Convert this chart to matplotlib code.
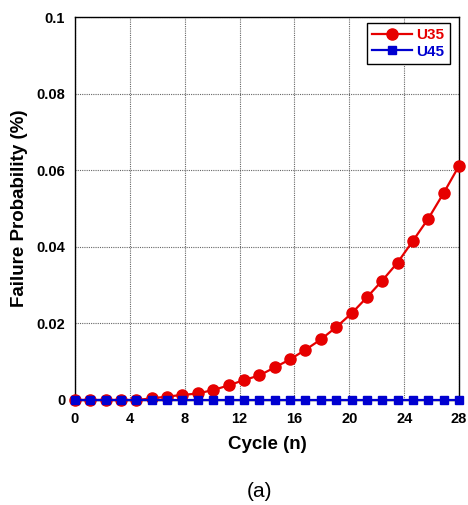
import matplotlib
matplotlib.use("Agg")
import matplotlib.pyplot as plt
import numpy as np

plt.rcParams['font.family'] = ['Liberation Sans', 'DejaVu Sans']

# Data
cycles = [0.0, 1.12, 2.24, 3.36, 4.48, 5.6, 6.72, 7.84, 8.96, 10.08, 11.2, 12.32, 13.44,
          14.56, 15.68, 16.8, 17.92, 19.04, 20.16, 21.28, 22.4, 23.52, 24.64, 25.76, 26.88, 28.0]
u35 = [0.0, 0.0, 0.0, 0.0, 0.0, 0.0004, 0.0009, 0.0013, 0.0017, 0.0026, 0.0038, 0.0052, 0.0064,
       0.0085, 0.0106, 0.0131, 0.0158, 0.0190, 0.0226, 0.0268, 0.0312, 0.0359, 0.0416, 0.0474,
       0.0541, 0.0612]
u45 = [0.0] * 26
series_names = ["U35", "U45"]
xticks = [0, 4, 8, 12, 16, 20, 24, 28]
yticks = [0, 0.02, 0.04, 0.06, 0.08, 0.1]
ytick_labels = ["0", "0.02", "0.04", "0.06", "0.08", "0.1"]

red = '#e60000'
blue = '#0000d0'

fig = plt.figure(figsize=(4.68, 5.05), dpi=100)
ax = fig.add_axes([0.160, 0.208, 0.821, 0.758])

ax.plot(cycles, u35, '-o', color=red, lw=1.6, ms=8, label=series_names[0], zorder=3, clip_on=False)
ax.plot(cycles, u45, '-s', color=blue, lw=1.6, ms=6, label=series_names[1], zorder=4, clip_on=False)

ax.set_xlim(0, 28)
ax.set_ylim(0, 0.1)
ax.set_xticks(xticks)
ax.set_yticks(yticks)
ax.set_yticklabels(ytick_labels)
ax.grid(True, color='#666666', linestyle=(0, (1, 1)), linewidth=0.8)
ax.set_axisbelow(True)
ax.tick_params(direction='in', length=0, labelsize=10.5)
ax.tick_params(axis='x', pad=9)
ax.tick_params(axis='y', pad=7)
for lab in ax.get_xticklabels() + ax.get_yticklabels():
    lab.set_fontweight('bold')
for s in ax.spines.values():
    s.set_linewidth(1.0)

ax.set_xlabel("Cycle (n)", fontsize=13.5, fontweight='bold', labelpad=7)
ax.set_ylabel("Failure Probability (%)", fontsize=13.5, fontweight='bold', labelpad=6)

leg = ax.legend(loc='upper right', bbox_to_anchor=(0.975, 0.985), fancybox=False, edgecolor='black',
                framealpha=1, fontsize=11, handlelength=2.6, handletextpad=0.3,
                borderpad=0.35, labelspacing=0.15, borderaxespad=0.0)
leg.get_frame().set_linewidth(1.0)
for t, c in zip(leg.get_texts(), [red, blue]):
    t.set_color(c)
    t.set_fontweight('bold')

fig.text(0.555, 0.008, "(a)", fontsize=15, ha='center', va='bottom')

fig.savefig("out.png", dpi=100)
